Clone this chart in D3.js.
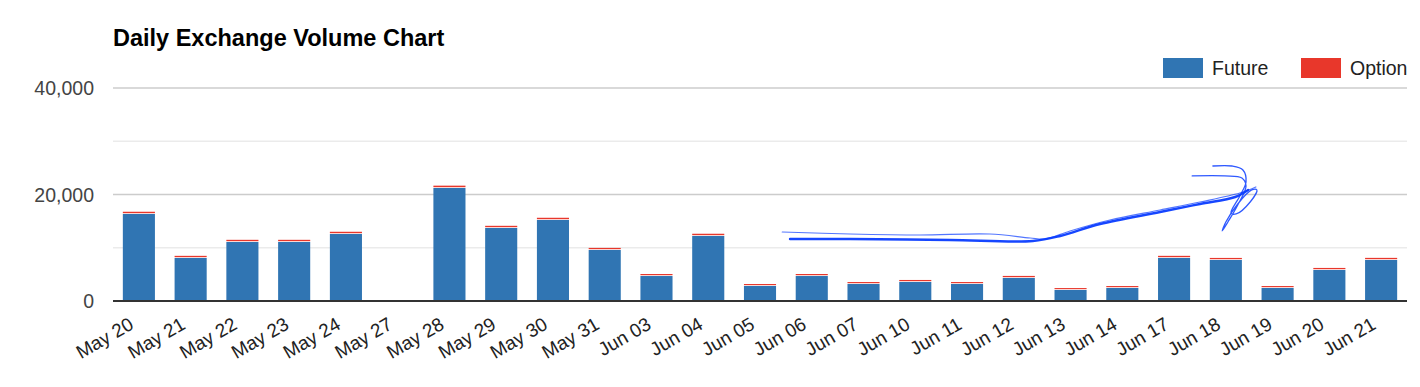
<!DOCTYPE html>
<html>
<head>
<meta charset="utf-8">
<script src="https://cdn.jsdelivr.net/npm/d3@7"></script>
<style>
  body { margin: 0; background: #fff; }
  svg { display: block; font-family: "Liberation Sans", Arial, sans-serif; }
</style>
</head>
<body>
<div id="chart"></div>
<script>
const days = ["May 20", "May 21", "May 22", "May 23", "May 24", "May 27", "May 28", "May 29", "May 30", "May 31",
  "Jun 03", "Jun 04", "Jun 05", "Jun 06", "Jun 07", "Jun 10", "Jun 11", "Jun 12", "Jun 13", "Jun 14",
  "Jun 17", "Jun 18", "Jun 19", "Jun 20", "Jun 21"];
const future = [16340, 8080, 11080, 11080, 12580, 0, 21220, 13710, 15210, 9580,
  4690, 12210, 2820, 4690, 3190, 3570, 3190, 4320, 2070, 2440,
  8080, 7700, 2440, 5820, 7700];
const option = [420, 400, 410, 410, 420, 0, 440, 410, 420, 390,
  380, 420, 370, 380, 370, 380, 370, 390, 360, 370,
  400, 390, 370, 390, 400];
const seriesNames = ["Future", "Option"];
const yTicks = [0, 10000, 20000, 30000, 40000];

// hand-drawn annotation, in (day slot, volume) units
const scribbleLow = [[13.08, 11640], [14.24, 11640], [16.17, 11460], [17.77, 11270], [18.30, 12210], [19.07, 14460],
  [20.23, 16710], [21.00, 18220], [21.68, 19530], [21.93, 20850]];
const scribbleHigh = [[12.93, 12960], [14.24, 12580], [15.59, 12390], [16.94, 12580], [17.72, 11830], [18.01, 11640],
  [18.49, 13150], [19.26, 15210], [20.23, 17090], [21.00, 18590], [21.77, 20280], [22.08, 21410]];
const scribbleHead = [[20.85, 23480], [21.48, 23480], [21.81, 23100], [21.89, 21600], [21.73, 18030], [21.54, 14840],
  [21.43, 13150], [21.50, 14840], [21.73, 18220], [22.00, 20850], [22.10, 20850], [21.97, 18590], [21.70, 16340],
  [21.60, 16530], [21.77, 19720], [21.89, 22350], [21.83, 24600], [21.62, 25350], [21.25, 25350]];

const width = 1420, height = 387;
const plotLeft = 113, plotRight = 1407, plotTop = 88, plotBottom = 301;
const colors = ["#3075b3", "#e8372b"];
const gap = 0.8; // white seam between stacked segments

const svg = d3.select("#chart").append("svg")
  .attr("width", width)
  .attr("height", height);

const x = d3.scaleBand().domain(days).range([plotLeft, plotRight]).paddingInner(0.38).paddingOuter(0.19);
const xSlot = d3.scaleLinear().domain([0, days.length]).range([plotLeft, plotRight]);
const y = d3.scaleLinear().domain([0, 40000]).range([plotBottom, plotTop]);

// title
svg.append("text")
  .attr("x", plotLeft).attr("y", 46)
  .attr("font-size", 23.5).attr("font-weight", "bold").attr("fill", "#000")
  .text("Daily Exchange Volume Chart");

// gridlines
svg.append("g").selectAll("line")
  .data(yTicks.slice(1))
  .join("line")
  .attr("x1", plotLeft).attr("x2", plotRight)
  .attr("y1", d => y(d)).attr("y2", d => y(d))
  .attr("stroke", d => d % 20000 === 0 ? "#cccccc" : "#ebebeb")
  .attr("stroke-width", 1.5);

// y labels
svg.append("g").selectAll("text")
  .data(yTicks.filter(d => d % 20000 === 0))
  .join("text")
  .attr("x", 94).attr("y", d => y(d))
  .attr("dy", "0.36em")
  .attr("text-anchor", "end")
  .attr("font-size", 19.5).attr("fill", "#444")
  .text(d => d3.format(",")(d));

// stacked bars
const rows = days.map((d, i) => ({ day: d, Future: future[i], Option: option[i] }));
const stacked = d3.stack().keys(seriesNames)(rows);

svg.append("g").selectAll("g")
  .data(stacked)
  .join("g")
  .attr("fill", (d, i) => colors[i])
  .selectAll("rect")
  .data(d => d.filter(s => s[1] - s[0] > 0))
  .join("rect")
  .attr("x", d => x(d.data.day))
  .attr("width", x.bandwidth())
  .attr("y", d => y(d[1]))
  .attr("height", d => Math.max(0, y(d[0]) - y(d[1]) - (d[0] > 0 ? gap : 0)));

// baseline
svg.append("line")
  .attr("x1", plotLeft).attr("x2", plotRight)
  .attr("y1", y(0)).attr("y2", y(0))
  .attr("stroke", "#333").attr("stroke-width", 2);

// x labels
svg.append("g").selectAll("text")
  .data(days)
  .join("text")
  .attr("transform", d => `translate(${x(d) + x.bandwidth() / 2 - 4},328) rotate(-30)`)
  .attr("text-anchor", "end")
  .attr("font-size", 19).attr("fill", "#222")
  .text(d => d);

// legend
const legend = svg.append("g").selectAll("g")
  .data(seriesNames)
  .join("g")
  .attr("transform", (d, i) => `translate(${1163 + i * 138},58)`);
legend.append("rect")
  .attr("width", 40).attr("height", 20)
  .attr("fill", (d, i) => colors[i]);
legend.append("text")
  .attr("x", 49).attr("y", 17)
  .attr("font-size", 19.5).attr("fill", "#222")
  .text(d => d);

// annotation scribble
const pen = d3.line()
  .x(d => xSlot(d[0]))
  .y(d => y(d[1]))
  .curve(d3.curveCatmullRom);
const marks = svg.append("g")
  .attr("fill", "none")
  .attr("stroke", "#0a3cff")
  .attr("stroke-linecap", "round")
  .attr("stroke-linejoin", "round");
marks.append("path").attr("d", pen(scribbleLow)).attr("stroke-width", 2.4).attr("opacity", 0.95);
marks.append("path").attr("d", pen(scribbleHigh)).attr("stroke-width", 1.2).attr("opacity", 0.7);
marks.append("path").attr("d", pen(scribbleHead)).attr("stroke-width", 1.3).attr("opacity", 0.85);
</script>
</body>
</html>
